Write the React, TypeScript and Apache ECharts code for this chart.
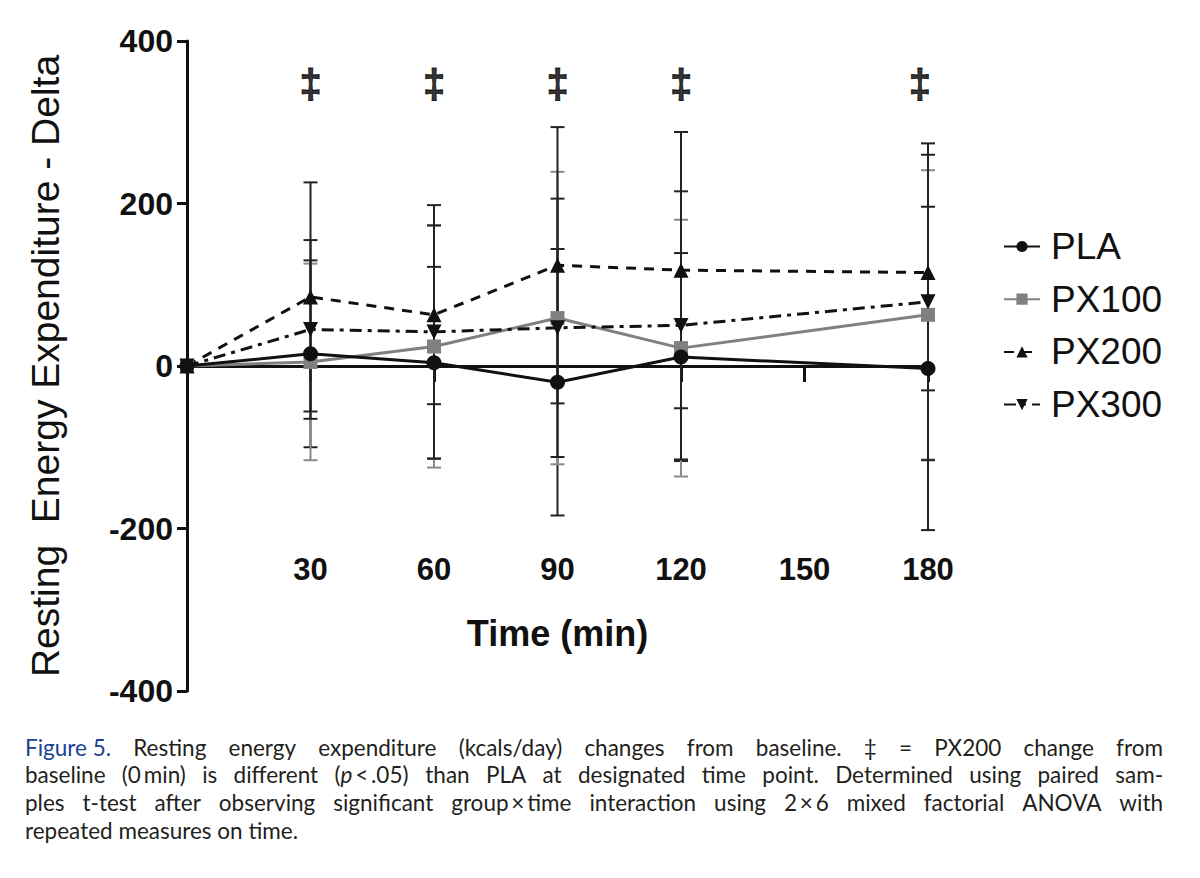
import React, { useEffect, useRef } from "react";
import * as echarts from "echarts";

const times = [0, 30, 60, 90, 120, 180];
const plaMean = [0, 15, 4, -20, 11, -3];
const plaSD = [0, 115, 118, 164, 128, 199];
const px100Mean = [0, 5, 24, 59, 22, 63];
const px100SD = [0, 121, 149, 180, 158, 178];
const px200Mean = [0, 85, 63, 124, 118, 115];
const px200SD = [0, 141, 110, 170, 170, 145];
const px300Mean = [0, 45, 42, 47, 50, 79];
const px300SD = [0, 110, 156, 159, 165, 195];

const sigTimes = [30, 60, 90, 120, 178];
const sigLevel = 347;

const yTicks = [-400, -200, 0, 200, 400];

const captionLines = [
  "{b|Figure\u00a05.} Resting energy expenditure (kcals/day) changes from baseline. ‡ = PX200 change from",
  "baseline (0\u2009min) is different ({i|p}\u2009<\u2009.05) than PLA at designated time point. Determined using paired sam-",
  "ples t-test after observing significant group\u2009×\u2009time interaction using 2\u2009×\u20096 mixed factorial ANOVA with",
  "repeated measures on time.",
];
const captionJustify = [true, true, true, false];

const FONT = "'Liberation Sans', Arial, sans-serif";
const CAPFONT = "Lato, 'Noto Sans', sans-serif";
const CAPSIZE = 22.5;

function errSeries(name: string, mean: number[], sd: number[], color: string) {
  return {
    type: "custom",
    name,
    silent: true,
    z: 1,
    data: times.map((t, i) => [t, mean[i] - sd[i], mean[i] + sd[i]]),
    encode: { x: 0, y: [1, 2] },
    renderItem: (params: any, api: any) => {
      const x = api.value(0);
      const lo = api.coord([x, api.value(1)]);
      const hi = api.coord([x, api.value(2)]);
      if (api.value(1) === api.value(2)) return { type: "group", children: [] };
      const w = 7;
      const st = { stroke: color, lineWidth: 2 };
      return {
        type: "group",
        children: [
          { type: "line", shape: { x1: lo[0], y1: lo[1], x2: hi[0], y2: hi[1] }, style: st },
          { type: "line", shape: { x1: lo[0] - w, y1: lo[1], x2: lo[0] + w, y2: lo[1] }, style: st },
          { type: "line", shape: { x1: hi[0] - w, y1: hi[1], x2: hi[0] + w, y2: hi[1] }, style: st },
        ],
      };
    },
  };
}

function captionGraphics() {
  const canvas = document.createElement("canvas");
  const ctx = canvas.getContext("2d") as CanvasRenderingContext2D;
  ctx.font = `${CAPSIZE}px ${CAPFONT}`;
  const strip = (s: string) => s.replace(/\{\w+\|([^}]*)\}/g, "$1");
  const x0 = 25;
  const x1 = 1163;
  const out: any[] = [];
  const rich = {
    b: { fontSize: CAPSIZE, fontFamily: CAPFONT, fill: "#1c3f94" },
    i: { fontSize: CAPSIZE, fontFamily: CAPFONT, fill: "#231f20", fontStyle: "italic" },
  };
  captionLines.forEach((line, li) => {
    const y = 747 + li * 27.8;
    const words = line.split(" ");
    const widths = words.map((w) => ctx.measureText(strip(w)).width);
    const total = widths.reduce((a, b) => a + b, 0);
    const spaceW = ctx.measureText(" ").width;
    const gap = captionJustify[li] && words.length > 1 ? (x1 - x0 - total) / (words.length - 1) : spaceW;
    let x = x0;
    words.forEach((w, wi) => {
      out.push({
        type: "text",
        x,
        y,
        style: {
          text: w,
          fontSize: CAPSIZE,
          fontFamily: CAPFONT,
          fill: "#231f20",
          verticalAlign: "middle",
          align: "left",
          rich,
        },
      });
      x += widths[wi] + gap;
    });
  });
  return out;
}

export default function App() {
  const ref = useRef<HTMLDivElement>(null);
  useEffect(() => {
    if (!ref.current) return;
    const chart = echarts.init(ref.current, null, { renderer: "svg" });
    const mk = (m: number[]) => times.map((t, i) => [t, m[i]]);
    const option: any = {
      animation: false,
      backgroundColor: "#ffffff",
      grid: { left: 187, right: 272, top: 41, bottom: 187, containLabel: false, outerBoundsMode: "none" },
      legend: {
        data: ["PLA", "PX100", "PX200", "PX300"],
        orient: "vertical",
        left: 998,
        top: 223,
        itemWidth: 36,
        itemHeight: 14,
        itemGap: 15.7,
        textStyle: { fontSize: 37, fontFamily: FONT, color: "#111", padding: [0, 0, 0, 6] },
      },
      xAxis: {
        type: "value",
        min: 0,
        max: 180,
        interval: 30,
        name: "Time (min)",
        nameLocation: "middle",
        nameGap: -76,
        nameMoveOverlap: false,
        nameTextStyle: { fontSize: 36, fontWeight: "bold", fontFamily: FONT, color: "#111" },
        axisLine: { onZero: true, lineStyle: { color: "#111", width: 3 } },
        axisTick: { show: true, length: 16, lineStyle: { color: "#111", width: 3 } },
        axisLabel: {
          margin: -137,
          fontSize: 31,
          fontWeight: "bold",
          fontFamily: FONT,
          color: "#111",
          formatter: (v: number) => (v === 0 ? "" : String(v)),
        },
        splitLine: { show: false },
      },
      yAxis: {
        type: "value",
        min: yTicks[0],
        max: yTicks[yTicks.length - 1],
        interval: 200,
        name: "Resting  Energy Expenditure - Delta",
        nameLocation: "middle",
        nameRotate: 90,
        nameGap: 122,
        nameMoveOverlap: false,
        nameTextStyle: { fontSize: 39, fontFamily: FONT, color: "#111" },
        axisLine: { show: true, lineStyle: { color: "#111", width: 3 } },
        axisTick: { show: true, length: 10, lineStyle: { color: "#111", width: 3 } },
        axisLabel: { margin: 14, fontSize: 32, fontWeight: "bold", fontFamily: FONT, color: "#111" },
        splitLine: { show: false },
      },
      series: [
        errSeries("PLA-err", plaMean, plaSD, "#222"),
        errSeries("PX100-err", px100Mean, px100SD, "#8a8a8a"),
        errSeries("PX200-err", px200Mean, px200SD, "#222"),
        errSeries("PX300-err", px300Mean, px300SD, "#222"),
        {
          type: "line",
          name: "PLA",
          data: mk(plaMean),
          symbol: "circle",
          symbolSize: 15,
          z: 5,
          lineStyle: { color: "#111", width: 3 },
          itemStyle: { color: "#111" },
        },
        {
          type: "line",
          name: "PX100",
          data: mk(px100Mean),
          symbol: "rect",
          symbolSize: 14,
          z: 4,
          lineStyle: { color: "#808080", width: 3 },
          itemStyle: { color: "#808080" },
        },
        {
          type: "line",
          name: "PX200",
          data: mk(px200Mean),
          symbol: "triangle",
          symbolSize: 15,
          z: 4,
          lineStyle: { color: "#111", width: 3, type: [10, 8] },
          itemStyle: { color: "#111" },
        },
        {
          type: "line",
          name: "PX300",
          data: mk(px300Mean),
          symbol: "triangle",
          symbolRotate: 180,
          symbolSize: 15,
          z: 4,
          lineStyle: { color: "#111", width: 3, type: [12, 6, 4, 6] },
          itemStyle: { color: "#111" },
        },
        {
          type: "scatter",
          name: "sig",
          silent: true,
          data: sigTimes.map((t) => [t, sigLevel]),
          symbolSize: 1,
          itemStyle: { color: "rgba(0,0,0,0)" },
          label: {
            show: true,
            position: "inside",
            formatter: "‡",
            fontSize: 40,
            fontWeight: "bold",
            fontFamily: FONT,
            color: "#000",
            textBorderColor: "#000",
            textBorderWidth: 1,
          },
        },
      ],
      graphic: captionGraphics(),
    };
    chart.setOption(option);
    return () => chart.dispose();
  }, []);
  return (
    <div
      ref={ref}
      style={{ position: "absolute", left: 0, top: 0, width: 1200, height: 878, background: "#fff" }}
    />
  );
}
